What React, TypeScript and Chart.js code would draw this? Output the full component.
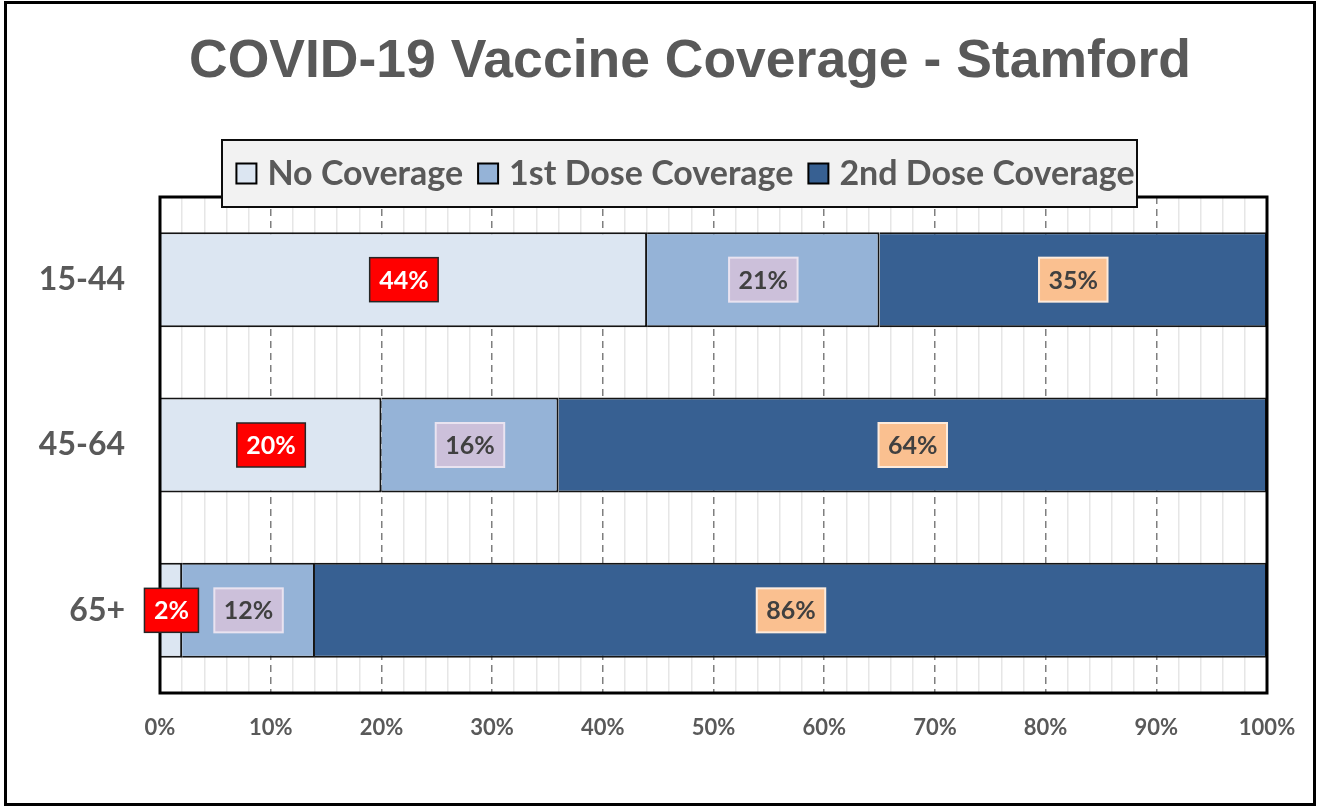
import React, { useEffect, useRef } from 'react';
import { Chart, registerables } from 'chart.js';

Chart.register(...registerables);

const categories = ['15-44', '45-64', '65+'];
const noCoverage = [44, 20, 2];
const firstDose = [21, 16, 12];
const secondDose = [35, 64, 86];
const seriesNames = ['No Coverage', '1st Dose Coverage', '2nd Dose Coverage'];
const seriesColors = ['#DCE6F2', '#95B3D7', '#376092'];
const labelFills = ['#FF0000', '#CCC0DA', '#FAC090'];
const labelBorders = ['#262626', '#E9E3F0', '#FDEBDC'];
const labelTextColors = ['#FFFFFF', '#404040', '#404040'];
const titleText = 'COVID-19 Vaccine Coverage - Stamford';

const W = 1319;
const H = 807;

const decorPlugin = {
  id: 'decor',
  beforeDraw(chart: any) {
    const ctx = chart.ctx;
    ctx.save();
    ctx.fillStyle = '#FFFFFF';
    ctx.fillRect(0, 0, chart.width, chart.height);
    // title
    ctx.fillStyle = '#595959';
    ctx.font = 'bold 53.5px "Liberation Sans", Arial, sans-serif';
    ctx.textAlign = 'center';
    ctx.textBaseline = 'alphabetic';
    ctx.fillText(titleText, 690, 77);
    ctx.restore();
  },
  afterDatasetsDraw(chart: any) {
    const ctx = chart.ctx;
    const a = chart.chartArea;
    ctx.save();
    ctx.setLineDash([]);
    ctx.strokeStyle = '#000000';
    ctx.lineWidth = 3;
    ctx.strokeRect(a.left, a.top, a.right - a.left, a.bottom - a.top);
    ctx.restore();

    // data labels
    chart.data.datasets.forEach((ds: any, di: number) => {
      const meta = chart.getDatasetMeta(di);
      meta.data.forEach((el: any, i: number) => {
        const v = ds.data[i];
        const p = el.getProps(['x', 'y', 'base'], true);
        const cx = (p.x + p.base) / 2;
        const cy = p.y;
        const text = v + '%';
        ctx.save();
        ctx.font = 'bold 25px Lato';
        const tw = ctx.measureText(text).width;
        const bw = tw + 19;
        const bh = 44;
        ctx.fillStyle = labelFills[di];
        ctx.fillRect(cx - bw / 2, cy - bh / 2, bw, bh);
        ctx.strokeStyle = labelBorders[di];
        ctx.lineWidth = di === 0 ? 1.5 : 2;
        ctx.strokeRect(cx - bw / 2, cy - bh / 2, bw, bh);
        ctx.fillStyle = labelTextColors[di];
        ctx.textAlign = 'center';
        ctx.textBaseline = 'middle';
        ctx.fillText(text, cx, cy + 1);
        ctx.restore();
      });
    });
  },
  afterDraw(chart: any) {
    const ctx = chart.ctx;
    // legend box
    const boxL = 222, boxT = 140, boxW = 915, boxH = 67;
    ctx.save();
    ctx.fillStyle = '#F2F2F2';
    ctx.fillRect(boxL, boxT, boxW, boxH);
    ctx.strokeStyle = '#0D0D0D';
    ctx.lineWidth = 2;
    ctx.strokeRect(boxL, boxT, boxW, boxH);
    ctx.font = 'bold 34px Lato';
    const marker = 20, gap = 11, spacing = 15;
    const names = chart.data.datasets.map((d: any) => d.label);
    const widths = names.map((n: string) => ctx.measureText(n).width);
    let total = 0;
    widths.forEach((w: number, i: number) => {
      total += marker + gap + w + (i > 0 ? spacing : 0);
    });
    let x = boxL + boxW / 2 - total / 2 + 6;
    const cy = boxT + boxH / 2;
    names.forEach((n: string, i: number) => {
      ctx.fillStyle = chart.data.datasets[i].backgroundColor;
      ctx.fillRect(x, cy - marker / 2, marker, marker);
      ctx.strokeStyle = '#000000';
      ctx.lineWidth = 2;
      ctx.strokeRect(x, cy - marker / 2, marker, marker);
      x += marker + gap;
      ctx.fillStyle = '#595959';
      ctx.textAlign = 'left';
      ctx.textBaseline = 'middle';
      ctx.fillText(n, x, cy + 1);
      x += widths[i] + spacing;
    });
    // outer border
    ctx.strokeStyle = '#000000';
    ctx.lineWidth = 3;
    ctx.strokeRect(5.5, 2.5, 1309, 802);
    ctx.restore();
  },
};

export default function App() {
  const ref = useRef<HTMLCanvasElement>(null);
  useEffect(() => {
    if (!ref.current) return;
    const mk = (label: string, data: number[], i: number) => ({
      label,
      data,
      xAxisID: 'x',
      yAxisID: 'y',
      backgroundColor: seriesColors[i],
      borderColor: '#141414',
      borderWidth: { top: 2, bottom: 2, left: 0, right: 2 },
      borderSkipped: false,
      barPercentage: 0.575,
      categoryPercentage: 1.0,
    });
    const chart = new Chart(ref.current, {
      type: 'bar',
      data: {
        labels: categories,
        datasets: [
          mk(seriesNames[0], noCoverage, 0),
          mk(seriesNames[1], firstDose, 1),
          mk(seriesNames[2], secondDose, 2),
        ],
      },
      options: {
        indexAxis: 'y',
        animation: false,
        responsive: false,
        events: [],
        layout: { padding: { left: 10, right: 52, top: 197, bottom: 0 } },
        plugins: {
          legend: { display: false },
          tooltip: { enabled: false },
          title: { display: false },
        },
        scales: {
          x: {
            type: 'linear',
            position: 'bottom',
            stacked: true,
            min: 0,
            max: 100,
            ticks: {
              stepSize: 10,
              callback: (v: any) => v + '%',
              color: '#595959',
              font: { family: 'Lato', size: 22, weight: 'bold' },
              padding: 22,
              maxRotation: 0,
            },
            grid: { drawTicks: false, color: '#7F7F7F', lineWidth: 1.5 },
            border: { display: false, dash: [7, 5] },
            afterFit: (s: any) => {
              s.height = 114;
            },
          },
          xMinor: {
            type: 'linear',
            axis: 'x',
            position: 'bottom',
            min: 0,
            max: 100,
            z: -1,
            ticks: { display: false, stepSize: 2 },
            grid: {
              drawTicks: false,
              lineWidth: 1.5,
              color: (c: any) => (c.tick && c.tick.value % 10 === 0 ? 'rgba(0,0,0,0)' : '#E6E6E6'),
            },
            border: { display: false },
            afterFit: (s: any) => {
              s.height = 0;
            },
          },
          y: {
            type: 'category',
            stacked: true,
            ticks: {
              color: '#595959',
              font: { family: 'Lato', size: 32, weight: 'bold' },
              padding: 35,
            },
            grid: { display: false, drawTicks: false },
            border: { display: false },
            afterFit: (s: any) => {
              s.width = 150;
            },
          },
        },
      },
      plugins: [decorPlugin],
    } as any);
    return () => chart.destroy();
  }, []);
  return (
    <div style={{ position: 'fixed', left: 0, top: 0, width: W, height: H, background: '#fff' }}>
      <canvas ref={ref} width={W} height={H} style={{ width: W, height: H, display: 'block' }} />
    </div>
  );
}
